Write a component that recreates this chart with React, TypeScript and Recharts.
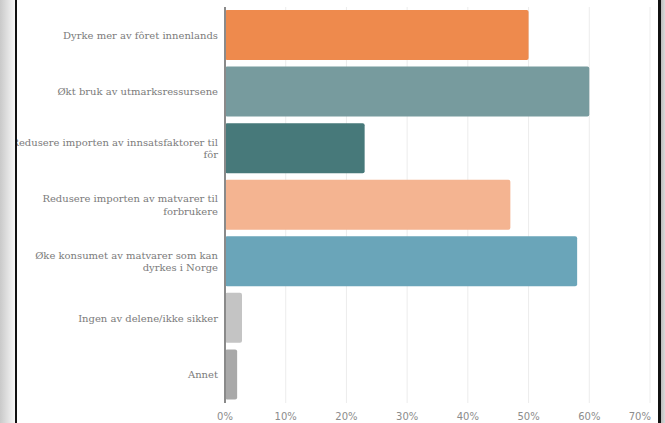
import { BarChart, Bar, XAxis, YAxis, CartesianGrid, Cell } from "recharts";

const categories = [
  "Dyrke mer av fôret innenlands",
  "Økt bruk av utmarksressursene",
  "Redusere importen av innsatsfaktorer til fôr",
  "Redusere importen av matvarer til forbrukere",
  "Øke konsumet av matvarer som kan dyrkes i Norge",
  "Ingen av delene/ikke sikker",
  "Annet",
];
const shares = [50, 60, 23, 47, 58, 2.8, 2];
const barColors = ["#ee8a4d", "#779b9e", "#47797a", "#f4b491", "#6aa5b9", "#c4c4c4", "#a9a9a9"];
const xTicks = [0, 10, 20, 30, 40, 50, 60, 70];

const data = categories.map((name, i) => ({ name, value: shares[i] }));

const SERIF = "'DejaVu Serif', serif";
let ctx: CanvasRenderingContext2D | null = null;
function measure(s: string) {
  if (!ctx) ctx = document.createElement("canvas").getContext("2d");
  if (!ctx) return s.length * 5.3;
  ctx.font = "10px " + SERIF;
  return ctx.measureText(s).width;
}

function wrap(text: string, maxWidth: number) {
  const words = text.split(" ");
  const lines: string[] = [];
  let cur = "";
  for (const w of words) {
    const next = cur ? cur + " " + w : w;
    if (cur && measure(next) > maxWidth) {
      lines.push(cur);
      cur = w;
    } else {
      cur = next;
    }
  }
  if (cur) lines.push(cur);
  return lines;
}

function CategoryTick({ x, y, payload }: any) {
  const lines = wrap(payload.value, 216);
  const lh = 12.3;
  const top = y - ((lines.length - 1) * lh) / 2;
  return (
    <text textAnchor="end" fill="#7b7b7b" style={{ fontSize: 10, fontFamily: SERIF }}>
      {lines.map((l, i) => (
        <tspan key={i} x={x} y={top + i * lh} dy="0.35em">
          {l}
        </tspan>
      ))}
    </text>
  );
}

function PercentTick({ x, y, payload, index }: any) {
  const last = index === xTicks.length - 1;
  return (
    <text
      x={last ? x + 1 : x}
      y={y + 17}
      textAnchor={last ? "end" : "middle"}
      fill="#8c8c8c"
      style={{ fontSize: 10, fontFamily: "'DejaVu Sans', sans-serif" }}
    >
      {payload.value}%
    </text>
  );
}

export default function App() {
  return (
    <div style={{ position: "relative", width: 665, height: 423, overflow: "hidden", background: "#fff" }}>
      <style>{`body{margin:0}`}</style>
      <BarChart
        width={665}
        height={423}
        data={data}
        layout="vertical"
        margin={{ top: 7, right: 15, left: 0, bottom: 0 }}
        barSize={50}
      >
        <CartesianGrid horizontal={false} stroke="#ececec" />
        <XAxis
          type="number"
          domain={[0, 70]}
          ticks={xTicks}
          axisLine={false}
          tickLine={false}
          tickSize={0}
          tickMargin={0}
          height={20}
          tick={<PercentTick />}
        />
        <YAxis
          type="category"
          dataKey="name"
          width={225}
          axisLine={{ stroke: "#8a8a8a", strokeWidth: 2 }}
          tickLine={false}
          tickSize={0}
          tickMargin={7}
          interval={0}
          tick={<CategoryTick />}
        />
        <Bar dataKey="value" radius={2} isAnimationActive={false}>
          {data.map((d, i) => (
            <Cell key={d.name} fill={barColors[i]} />
          ))}
        </Bar>
      </BarChart>
      <div
        style={{
          position: "absolute",
          left: 0,
          top: 0,
          width: 15,
          height: 423,
          background: "linear-gradient(to right, #c9c9c9, #f7f7f7)",
        }}
      />
      <div style={{ position: "absolute", left: 15, top: 0, width: 2, height: 423, background: "#111" }} />
      <div style={{ position: "absolute", left: 658, top: 0, width: 3, height: 423, background: "#111" }} />
      <div
        style={{
          position: "absolute",
          left: 661,
          top: 0,
          width: 4,
          height: 423,
          background: "linear-gradient(to right, #bdbdbd, #d9d9d9)",
        }}
      />
    </div>
  );
}
